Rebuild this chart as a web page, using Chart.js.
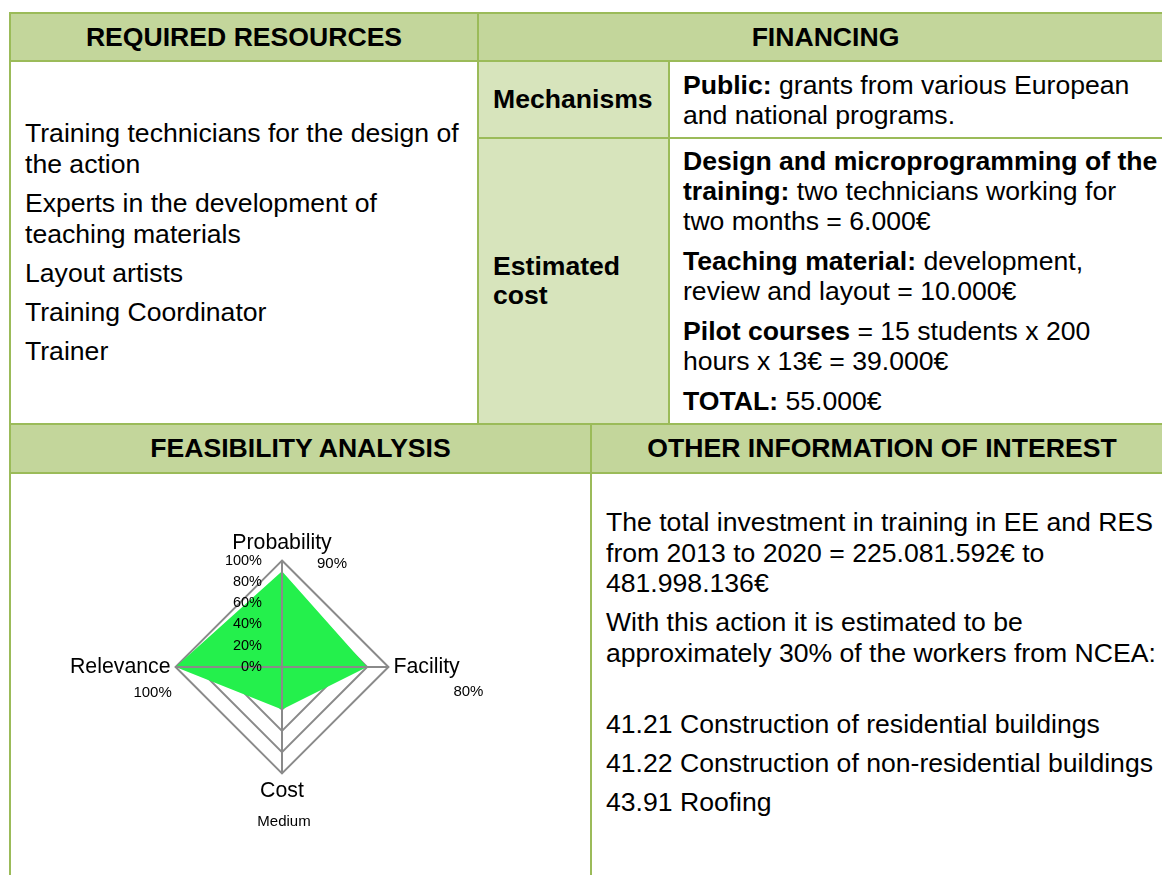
<!DOCTYPE html>
<html>
<head>
<meta charset="utf-8">
<script src="https://cdn.jsdelivr.net/npm/chart.js@4/dist/chart.umd.min.js"></script>
<style>
html,body{margin:0;padding:0;background:#fff;}
body{width:1162px;height:875px;overflow:hidden;position:relative;font-family:"Liberation Sans",Arial,sans-serif;color:#000;font-size:26.6px;}
.cell{position:absolute;box-sizing:border-box;}
.hdr{background:#C3D69B;display:flex;align-items:center;justify-content:center;font-weight:bold;white-space:nowrap;}
.lbl{background:#D7E4BC;display:flex;align-items:center;padding-left:15px;font-weight:bold;}
.vc{display:flex;flex-direction:column;justify-content:center;}
.ln{position:absolute;background:#9BBB59;}
.p{white-space:nowrap;}
#res .p{line-height:31px;margin:0 0 8px 0;}
#res .p:last-child{margin-bottom:0;}
#cost .p{line-height:30px;margin:0 0 10px 0;}
#cost .p:last-child{margin-bottom:0;}
#other .p{line-height:30.5px;margin:0 0 8.5px 0;}
#chartbox{position:absolute;left:30px;top:500px;width:504px;height:340px;}
</style>
</head>
<body>

<!-- backgrounds / cells -->
<div class="cell hdr" style="left:10px;top:13px;width:468px;height:48px;">REQUIRED RESOURCES</div>
<div class="cell hdr" style="left:478px;top:13px;width:695px;height:48px;">FINANCING</div>

<div class="cell vc" id="res" style="left:10px;top:61px;width:468px;height:363px;padding-left:15px;">
  <div class="p">Training technicians for the design of<br>the action</div>
  <div class="p">Experts in the development of<br>teaching materials</div>
  <div class="p">Layout artists</div>
  <div class="p">Training Coordinator</div>
  <div class="p">Trainer</div>
</div>

<div class="cell lbl" style="left:478px;top:61px;width:191px;height:77px;">Mechanisms</div>
<div class="cell vc" style="left:669px;top:61px;width:504px;height:77px;padding-left:14px;">
  <div class="p" style="line-height:30px;"><b>Public:</b> grants from various European<br>and national programs.</div>
</div>

<div class="cell lbl" style="left:478px;top:138px;width:191px;height:286px;"><div style="line-height:29.5px;">Estimated<br>cost</div></div>
<div class="cell vc" id="cost" style="left:669px;top:138px;width:504px;height:286px;padding-left:14px;">
  <div class="p"><b>Design and microprogramming of the<br>training:</b> two technicians working for<br>two months = 6.000€</div>
  <div class="p"><b>Teaching material:</b> development,<br>review and layout = 10.000€</div>
  <div class="p"><b>Pilot courses</b> = 15 students x 200<br>hours x 13€ = 39.000€</div>
  <div class="p"><b>TOTAL:</b> 55.000€</div>
</div>

<div class="cell hdr" style="left:10px;top:424px;width:581px;height:49px;">FEASIBILITY ANALYSIS</div>
<div class="cell hdr" style="left:591px;top:424px;width:582px;height:49px;">OTHER INFORMATION OF INTEREST</div>

<div class="cell" id="other" style="left:591px;top:473px;width:582px;height:402px;padding-left:15px;padding-top:34px;">
  <div class="p">The total investment in training in EE and RES<br>from 2013 to 2020 = 225.081.592€ to<br>481.998.136€</div>
  <div class="p">With this action it is estimated to be<br>approximately 30% of the workers from NCEA:</div>
  <div class="p" style="margin-top:41px;">41.21 Construction of residential buildings</div>
  <div class="p">41.22 Construction of non-residential buildings</div>
  <div class="p">43.91 Roofing</div>
</div>

<div id="chartbox"><canvas id="radar" width="504" height="340"></canvas></div>

<!-- border lines -->
<div class="ln" style="left:9px;top:12px;width:1164px;height:2px;"></div>
<div class="ln" style="left:9px;top:60px;width:1164px;height:2px;"></div>
<div class="ln" style="left:478px;top:137px;width:695px;height:2px;"></div>
<div class="ln" style="left:9px;top:423px;width:1164px;height:2px;"></div>
<div class="ln" style="left:9px;top:472px;width:1164px;height:2px;"></div>
<div class="ln" style="left:9px;top:12px;width:2px;height:870px;"></div>
<div class="ln" style="left:477px;top:12px;width:2px;height:412px;"></div>
<div class="ln" style="left:668px;top:60px;width:2px;height:364px;"></div>
<div class="ln" style="left:590px;top:423px;width:2px;height:460px;"></div>

<script>
// ---- data ----
const axisLabels = ['Probability', 'Facility', 'Cost', 'Relevance'];
const feasibility = [90, 80, 40, 100];
const valueNotes = ['90%', '80%', 'Medium', '100%'];
const tickMin = 0;
const tickMax = 100;
const tickStep = 20;

// ---- styles ----
const gridColor = '#8A8A8A';
const fillColor = 'rgb(36,240,76)';
const fontFamily = '"Liberation Sans", Arial, sans-serif';
// note offsets relative to each axis end point (layout, not data)
const noteOffsets = [[50, 3], [80, 25], [2, 48], [-23, 26]];

const overlayPlugin = {
  id: 'overlay',
  afterDatasetsDraw(chart) {
    const s = chart.scales.r;
    const ctx = chart.ctx;
    ctx.save();
    // axis lines drawn above the filled area
    ctx.strokeStyle = gridColor;
    ctx.lineWidth = 2;
    for (let i = 0; i < axisLabels.length; i++) {
      const p = s.getPointPositionForValue(i, s.max);
      ctx.beginPath();
      ctx.moveTo(s.xCenter, s.yCenter);
      ctx.lineTo(p.x, p.y);
      ctx.stroke();
    }
    // tick labels, right aligned left of vertical axis
    ctx.fillStyle = '#000';
    ctx.font = '14.5px ' + fontFamily;
    ctx.textAlign = 'right';
    ctx.textBaseline = 'middle';
    s.ticks.forEach(t => {
      const d = s.getDistanceFromCenterForValue(t.value);
      ctx.fillText(t.label, s.xCenter - 20, s.yCenter - d);
    });
    // value notes near each axis
    ctx.textAlign = 'center';
    ctx.font = '15px ' + fontFamily;
    valueNotes.forEach((txt, i) => {
      const p = s.getPointPositionForValue(i, s.max);
      ctx.fillText(txt, p.x + noteOffsets[i][0], p.y + noteOffsets[i][1]);
    });
    ctx.restore();
  }
};

new Chart(document.getElementById('radar'), {
  type: 'radar',
  data: {
    labels: axisLabels,
    datasets: [{
      data: feasibility,
      backgroundColor: fillColor,
      borderWidth: 0,
      pointRadius: 0,
      pointHoverRadius: 0,
      fill: true
    }]
  },
  options: {
    responsive: false,
    animation: false,
    layout: {padding: {top: 31, bottom: 35, left: 0, right: 0}},
    elements: {line: {tension: 0, borderWidth: 0}},
    plugins: {legend: {display: false}, tooltip: {enabled: false}},
    scales: {
      r: {
        min: tickMin,
        max: tickMax,
        ticks: {stepSize: tickStep, display: false, callback: v => v + '%'},
        grid: {color: gridColor, lineWidth: 2, circular: false},
        angleLines: {color: gridColor, lineWidth: 2},
        pointLabels: {color: '#000', padding: 5, font: {family: fontFamily, size: 21.3}}
      }
    }
  },
  plugins: [overlayPlugin]
});
</script>
</body>
</html>
